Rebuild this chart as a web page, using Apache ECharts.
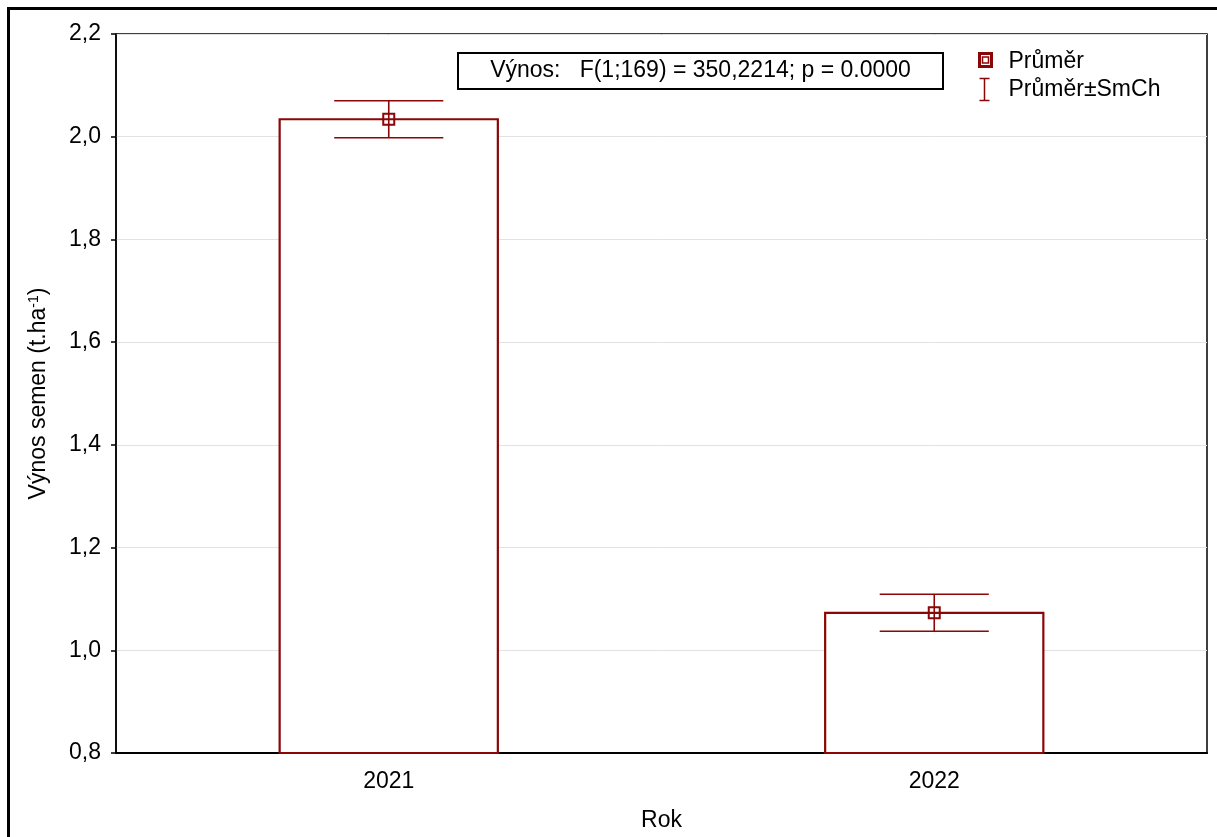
<!DOCTYPE html>
<html>
<head>
<meta charset="utf-8">
<title>Výnos semen</title>
<script src="https://cdn.jsdelivr.net/npm/echarts@6/dist/echarts.min.js"></script>
<style>
  html, body { margin: 0; padding: 0; background: #fff; }
  #chart { width: 1217px; height: 837px; }
</style>
</head>
<body>
<div id="chart"></div>
<script>
// Seed yield by year: mean and standard error of the mean
const years = ['2021', '2022'];
const means = [2.034, 1.073];
const stdErrs = [0.036, 0.036];

const yMin = 0.8;
const yMax = 2.2;
const yStep = 0.2;

const annotationText = 'Výnos:   F(1;169) = 350,2214; p = 0.0000';
const legendMean = 'Průměr';
const legendErr = 'Průměr±SmCh';

const RED = '#8b0606';
const FONT = '"Liberation Sans", Arial, sans-serif';
const FS = 23;

const barData = years.map((y, i) => [i, means[i]]);
const errData = years.map((y, i) => [i, means[i] - stdErrs[i], means[i] + stdErrs[i]]);
const meanData = years.map((y, i) => [i, means[i]]);

const chart = echarts.init(document.getElementById('chart'), null, { renderer: 'canvas' });

chart.setOption({
  animation: false,
  backgroundColor: '#fff',
  grid: {
    left: 116, top: 34, right: 10, bottom: 83,
    show: true, borderColor: '#000', borderWidth: 1.5, backgroundColor: 'transparent'
  },
  xAxis: {
    type: 'category',
    data: years,
    boundaryGap: true,
    name: 'Rok',
    nameLocation: 'middle',
    nameGap: 56,
    nameTextStyle: { fontFamily: FONT, fontSize: FS, color: '#000' },
    axisLine: { lineStyle: { color: '#000', width: 2 } },
    axisTick: { show: true, inside: true, alignWithLabel: true, length: 6, lineStyle: { color: '#000', width: 1.5 } },
    axisLabel: { fontFamily: FONT, fontSize: FS, color: '#000', margin: 17 },
    splitLine: { show: false }
  },
  yAxis: {
    type: 'value',
    min: yMin,
    max: yMax,
    interval: yStep,
    name: 'Výnos semen (t.ha{sup|-1})',
    nameLocation: 'middle',
    nameGap: 65,
    nameTextStyle: {
      fontFamily: FONT, fontSize: FS, color: '#000',
      rich: { sup: { fontFamily: FONT, fontSize: 14, color: '#000', verticalAlign: 'top', padding: [0, 0, 10, 0] } }
    },
    axisLine: { show: true, lineStyle: { color: '#000', width: 1.5 } },
    axisTick: { show: true, length: 5, lineStyle: { color: '#000', width: 1.5 } },
    axisLabel: {
      fontFamily: FONT, fontSize: FS, color: '#000', margin: 15, padding: [5, 0, 0, 0],
      formatter: v => v.toFixed(1).replace('.', ',')
    },
    splitLine: { show: true, lineStyle: { color: '#e2e2e2', width: 1 } }
  },
  series: [
    {
      name: 'bars',
      type: 'custom',
      z: 2,
      data: barData,
      encode: { x: 0, y: 1 },
      renderItem: (params, api) => {
        const i = api.value(0);
        const top = api.coord([i, api.value(1)]);
        const base = api.coord([i, yMin]);
        const w = api.size([1, 0])[0] * 0.4;
        return {
          type: 'rect',
          shape: { x: top[0] - w / 2, y: top[1], width: w, height: base[1] - top[1] },
          style: { fill: '#fff', stroke: RED, lineWidth: 2.2 }
        };
      }
    },
    {
      name: legendErr,
      type: 'custom',
      z: 3,
      data: errData,
      encode: { x: 0, y: [1, 2] },
      renderItem: (params, api) => {
        const i = api.value(0);
        const lo = api.coord([i, api.value(1)]);
        const hi = api.coord([i, api.value(2)]);
        const half = api.size([1, 0])[0] * 0.1;
        const st = { stroke: RED, lineWidth: 1.6 };
        return {
          type: 'group',
          children: [
            { type: 'line', shape: { x1: lo[0], y1: lo[1], x2: hi[0], y2: hi[1] }, style: st },
            { type: 'line', shape: { x1: hi[0] - half, y1: hi[1], x2: hi[0] + half, y2: hi[1] }, style: st },
            { type: 'line', shape: { x1: lo[0] - half, y1: lo[1], x2: lo[0] + half, y2: lo[1] }, style: st }
          ]
        };
      }
    },
    {
      name: legendMean,
      type: 'scatter',
      z: 4,
      data: meanData,
      symbol: 'rect',
      symbolSize: 11,
      itemStyle: { color: 'rgba(255,255,255,0)', borderColor: RED, borderWidth: 2, opacity: 1 }
    }
  ],
  graphic: [
    // outer frame (left and top edges)
    {
      type: 'polyline', z: 100,
      shape: { points: [[8.5, 837], [8.5, 8.5], [1217, 8.5]] },
      style: { stroke: '#000', lineWidth: 3, fill: null }
    },
    // test statistic box
    {
      type: 'group', left: 457, top: 52, z: 100,
      children: [
        { type: 'rect', shape: { x: 0, y: 0, width: 485, height: 36 }, style: { fill: '#fff', stroke: '#000', lineWidth: 2 } },
        { type: 'text', x: 242.5, y: 18, style: { text: annotationText, font: FS + 'px ' + FONT, fill: '#000', align: 'center', verticalAlign: 'middle' } }
      ]
    },
    // legend
    {
      type: 'group', left: 977, top: 50, z: 100,
      children: [
        { type: 'rect', shape: { x: 2, y: 2, width: 12, height: 13 }, style: { fill: '#fff', stroke: RED, lineWidth: 3 } },
        { type: 'rect', shape: { x: 5, y: 5.5, width: 6, height: 6 }, style: { fill: '#fff', stroke: RED, lineWidth: 1.5 } },
        { type: 'text', x: 31, y: 10, style: { text: legendMean, font: FS + 'px ' + FONT, fill: '#000', verticalAlign: 'middle' } },
        { type: 'line', shape: { x1: 2, y1: 27, x2: 12, y2: 27 }, style: { stroke: RED, lineWidth: 1.5 } },
        { type: 'line', shape: { x1: 7, y1: 27, x2: 7, y2: 49 }, style: { stroke: RED, lineWidth: 1.5 } },
        { type: 'line', shape: { x1: 2, y1: 49, x2: 12, y2: 49 }, style: { stroke: RED, lineWidth: 1.5 } },
        { type: 'text', x: 31, y: 38, style: { text: legendErr, font: FS + 'px ' + FONT, fill: '#000', verticalAlign: 'middle' } }
      ]
    }
  ]
});
</script>
</body>
</html>
